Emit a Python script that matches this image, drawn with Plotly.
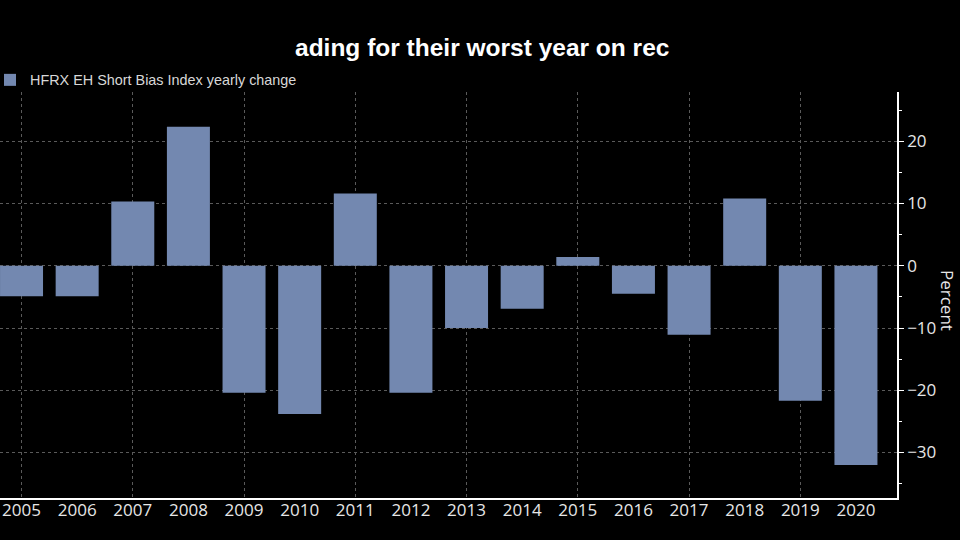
import plotly.graph_objects as go

years = [2005, 2006, 2007, 2008, 2009, 2010, 2011, 2012, 2013, 2014, 2015, 2016, 2017, 2018, 2019, 2020]
changes = [-4.9, -4.9, 10.3, 22.3, -20.4, -23.8, 11.6, -20.4, -10.0, -6.9, 1.4, -4.5, -11.1, 10.8, -21.7, -32.0]
grid_years = [2005, 2007, 2009, 2011, 2013, 2015, 2017, 2019]
y_ticks = [20, 10, 0, -10, -20, -30]
series_name = "HFRX EH Short Bias Index yearly change"
title_text = "ading for their worst year on rec"
y_label = "Percent"

BAR = "#7388B0"
GRID = "#5a5a5a"
TXT = "#e6e6e6"
XR = [2004.613, 2020.738]
YR = [-37.3, 27.9]

fig = go.Figure()
# invisible helper on the main x axis (carries the 2-year vertical grid)
fig.add_trace(go.Scatter(x=[years[0]], y=[0], mode="markers", marker=dict(opacity=0),
                         showlegend=False, hoverinfo="skip", xaxis="x", yaxis="y"))
fig.add_trace(go.Bar(x=years, y=changes, name=series_name, marker=dict(color=BAR, line=dict(width=0)),
                     width=0.773, xaxis="x2", yaxis="y", showlegend=True))

fig.update_layout(
    width=960, height=540, autosize=False,
    paper_bgcolor="black", plot_bgcolor="black",
    margin=dict(l=0, r=63, t=92, b=42, autoexpand=False),
    font=dict(family="Open Sans", color=TXT),
    showlegend=True,
    legend=dict(x=-10 / 897, xanchor="left", y=1 + 28 / 406, yanchor="top",
                orientation="h", bgcolor="rgba(0,0,0,0)",
                font=dict(family="Liberation Sans", size=14.4, color="#d8d8d8"),
                itemsizing="constant"),
    xaxis=dict(range=XR, tickvals=grid_years, showticklabels=False, showgrid=True,
               gridcolor=GRID, griddash="dot", gridwidth=1, zeroline=False,
               showline=True, linecolor="white", linewidth=1.5, ticks=""),
    xaxis2=dict(range=XR, overlaying="x", anchor="y", side="bottom", tickvals=years,
                ticktext=[str(y) for y in years], showgrid=False, zeroline=False,
                showline=False, ticks="", tickfont=dict(family="Open Sans", size=17, color=TXT)),
    yaxis=dict(range=YR, side="right", tickvals=y_ticks, showgrid=True, gridcolor=GRID,
               griddash="dot", gridwidth=1, zeroline=False, showline=True, linecolor="white",
               linewidth=1.5, ticks="outside", ticklen=5, tickcolor="white",
               tickfont=dict(family="Open Sans", size=17, color=TXT),
               minor=dict(dtick=5, tick0=0, ticks="outside", ticklen=3, tickcolor="white", showgrid=False)),
)

fig.add_annotation(text=title_text, xref="paper", yref="paper", x=293 / 897, y=1 + (92 - 48) / 406,
                   xanchor="left", yanchor="middle", showarrow=False,
                   font=dict(family="Liberation Sans", size=24.5, color="white", weight="bold"))
fig.add_annotation(text=y_label, xref="paper", yref="paper", x=948 / 897, y=(498 - 300) / 406,
                   xanchor="center", yanchor="middle", textangle=90, showarrow=False,
                   font=dict(family="Open Sans", size=17, color=TXT))

fig.write_html("out.html", config={"displayModeBar": False},
               post_script="document.body.style.margin='0';document.body.style.background='black';")
